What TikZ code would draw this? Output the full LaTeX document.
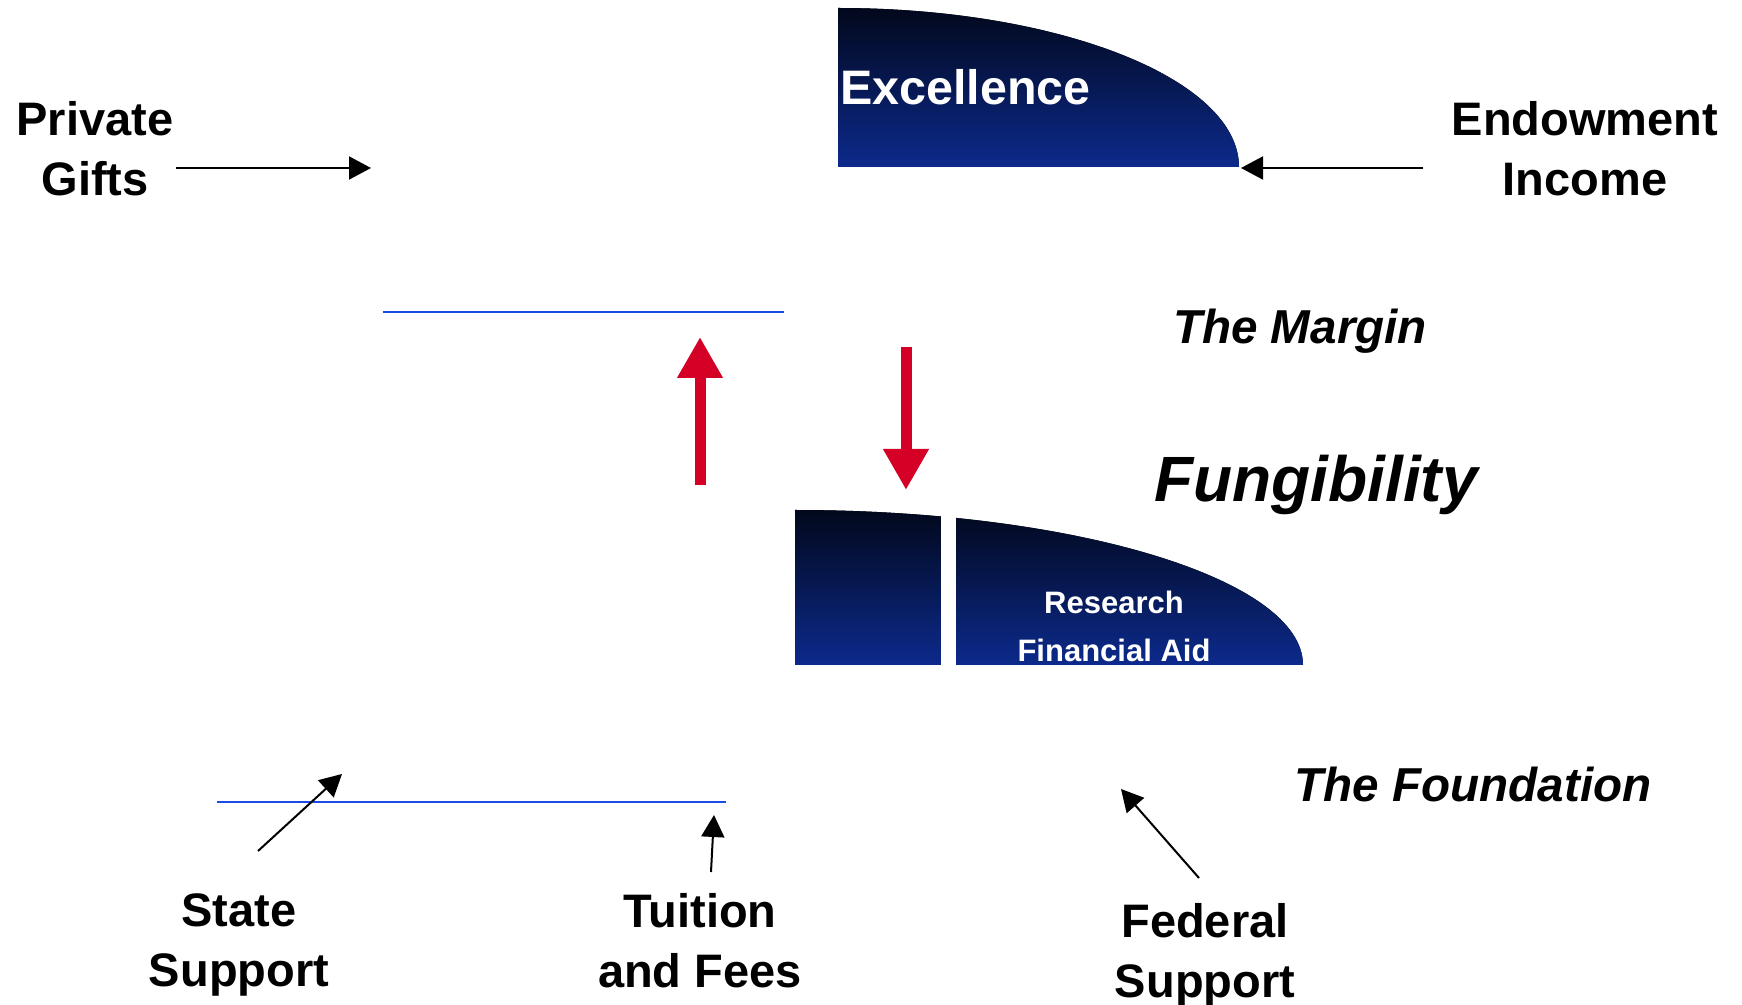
\documentclass[tikz,border=0pt]{standalone}
\usepackage{fontspec}
\setmainfont{Liberation Sans}
\usetikzlibrary{arrows.meta}
\definecolor{navytop}{RGB}{2,8,28}
\definecolor{navybot}{RGB}{12,42,140}
\definecolor{fundred}{RGB}{213,0,38}
\definecolor{lineblue}{RGB}{26,75,232}
\tikzset{
	lbl/.style={font=\fontsize{23.5}{30}\selectfont\bfseries, align=center, inner sep=0pt},
	ital/.style={font=\fontsize{23.8}{29}\selectfont\bfseries\itshape, inner sep=0pt},
	flow/.style={line width=1pt, -{Triangle[length=11pt,width=11.5pt]}},
	bigflow/.style={fundred, line width=5.5pt, -{Triangle[length=20.5pt,width=21.5pt]}},
	level/.style={lineblue, line width=1pt},
	band/.style={top color=navytop, bottom color=navybot}
}

\begin{document}
\begin{tikzpicture}[x=0.5pt, y=-0.5pt]
		\useasboundingbox (0,0) rectangle (1742,1005);

		\fill[band] (838,167) -- (838,8) .. controls (1059.5,8) and (1239,79.2) .. (1239,167) -- cycle;
		\fill[band] (795,665) -- (795,510) .. controls (1075.6,510) and (1303,579.4) .. (1303,665) -- cycle;
		\fill[white] (941,500) rectangle (956,670);

		\node[anchor=base west, inner sep=0pt, text=white, font=\fontsize{24.2}{28}\selectfont\bfseries] (exc) at (840,105) {Excellence};
		\node[text=white, align=center, inner sep=0pt, font=\fontsize{15.5}{24}\selectfont\bfseries] (res) at (1114,626) {Research\\Financial Aid};

		\node[lbl] (pg) at (95,149) {Private\\Gifts};
		\node[lbl] (ei) at (1585,149) {Endowment\\Income};
		\node[lbl] (ss) at (239,945) {State\\Support};
		\node[lbl] (tf) at (700,941) {Tuition\\and Fees};
		\node[lbl] (fs) at (1205,955) {Federal\\Support};
		\node[ital] (mg) at (1300,331) {The Margin};
		\node[ital, font=\fontsize{32}{36}\selectfont\bfseries\itshape] (fg) at (1316,485) {Fungibility};
		\node[ital] (fd) at (1473,784) {The Foundation};

		\coordinate (mgl) at (383,312);
		\coordinate (mgr) at (784,312);
		\coordinate (fdl) at (217,802);
		\coordinate (fdr) at (726,802);
		\draw[level] (mgl) -- (mgr);
		\draw[level] (fdl) -- (fdr);

		\coordinate (upfrom) at (700,485);
		\coordinate (upto) at (700,337);
		\coordinate (dnfrom) at (906,347);
		\coordinate (dnto) at (906,490);
		\draw[bigflow] (upfrom) -- (upto);
		\draw[bigflow] (dnfrom) -- (dnto);

		\coordinate (pgtail) at (176,168);
		\coordinate (pghead) at (371,168);
		\coordinate (eitail) at (1423,168);
		\coordinate (eihead) at (1241,168);
		\coordinate (sstail) at (258,851);
		\coordinate (sshead) at (342,774);
		\coordinate (tftail) at (711,872);
		\coordinate (tfhead) at (714,815);
		\coordinate (fstail) at (1199,878);
		\coordinate (fshead) at (1121,789);
		\draw[flow] (pgtail) -- (pghead);
		\draw[flow] (eitail) -- (eihead);
		\draw[flow] (sstail) -- (sshead);
		\draw[flow] (tftail) -- (tfhead);
		\draw[flow] (fstail) -- (fshead);
	\end{tikzpicture}
\end{document}
